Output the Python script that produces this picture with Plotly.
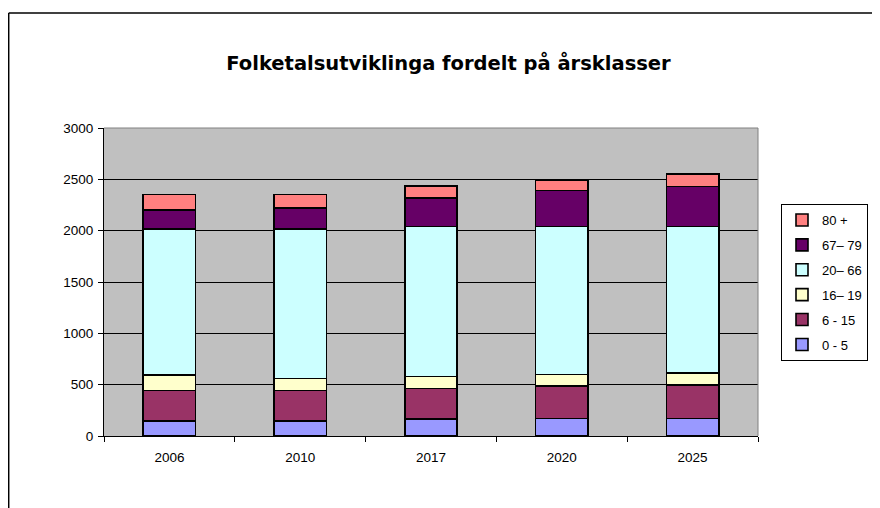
import plotly.graph_objects as go

years = ["2006", "2010", "2017", "2020", "2025"]
series_names = ["0 - 5", "6 - 15", "16\u2013 19", "20\u2013 66", "67\u2013 79", "80 +"]
age_0_5 = [146, 146, 166, 172, 172]
age_6_15 = [296, 296, 295, 315, 325]
age_16_19 = [153, 120, 117, 114, 114]
age_20_66 = [1423, 1456, 1463, 1440, 1430]
age_67_79 = [185, 202, 276, 351, 390]
age_80 = [150, 133, 117, 97, 120]
colors = ["#9999FF", "#993366", "#FFFFCC", "#CCFFFF", "#660066", "#FF8080"]

values = [age_0_5, age_6_15, age_16_19, age_20_66, age_67_79, age_80]

# the page body adds an 8px offset, so the figure is laid out in shifted coordinates
OFF = 8
W, H = 880 - OFF, 508 - OFF
L, R, T, B = 104 - OFF, 758 - OFF, 128 - OFF, 436 - OFF

fig = go.Figure()
n = len(series_names)
for i, (name, vals, col) in enumerate(zip(series_names, values, colors)):
    fig.add_trace(go.Bar(
        x=years, y=vals, name=name, legendrank=n - i, legendgroup=name,
        marker=dict(color=col, line=dict(color="black", width=1.6)),
    ))

def px_x(px):
    return (px - OFF - L) / (R - L)

def px_y(py):
    return (B - (py - OFF)) / (B - T)

fig.update_layout(
    width=W, height=H,
    barmode="stack", bargap=0.6,
    margin=dict(l=L, r=W - R, t=T, b=H - B, pad=0),
    paper_bgcolor="white", plot_bgcolor="#C0C0C0",
    font=dict(family="Liberation Sans, Arial, sans-serif", size=13, color="black"),
    title=dict(text="<b>Folketalsutviklinga fordelt på årsklasser</b>",
               x=(448.5 - OFF) / W, xref="container", xanchor="center",
               y=1 - (63 - OFF) / H, yref="container", yanchor="middle",
               font=dict(family="DejaVu Sans, sans-serif", size=19.5, color="black")),
    showlegend=True,
    legend=dict(traceorder="grouped", tracegroupgap=5, itemwidth=30,
                x=px_x(781), y=px_y(204), xanchor="left", yanchor="top",
                bgcolor="white", bordercolor="black", borderwidth=1,
                font=dict(size=13), itemclick=False),
    xaxis=dict(type="category", showline=True, linecolor="black", linewidth=1,
               ticks="outside", ticklen=5, tickcolor="black", tickson="boundaries",
               showgrid=False, tickfont=dict(size=13.5), ticklabelstandoff=9),
    yaxis=dict(range=[0, 3000], dtick=500, showline=True, linecolor="black", linewidth=1,
               ticks="outside", ticklen=5, tickcolor="black",
               showgrid=True, gridcolor="black", gridwidth=1, zeroline=False,
               tickfont=dict(size=13.5), ticklabelstandoff=2),
    shapes=[
        dict(type="line", xref="paper", yref="paper",
             x0=px_x(8.7), x1=px_x(8.7), y0=px_y(13), y1=px_y(530),
             line=dict(color="black", width=1.5)),
        dict(type="line", xref="paper", yref="paper",
             x0=px_x(8.7), x1=px_x(900), y0=px_y(13), y1=px_y(13),
             line=dict(color="black", width=1.5)),
        dict(type="line", xref="paper", yref="paper",
             x0=1, x1=1, y0=0, y1=1, line=dict(color="#808080", width=1)),
        dict(type="line", xref="paper", yref="paper",
             x0=0, x1=1, y0=1, y1=1, line=dict(color="#808080", width=1)),
    ],
)

fig.write_html("out.html")
